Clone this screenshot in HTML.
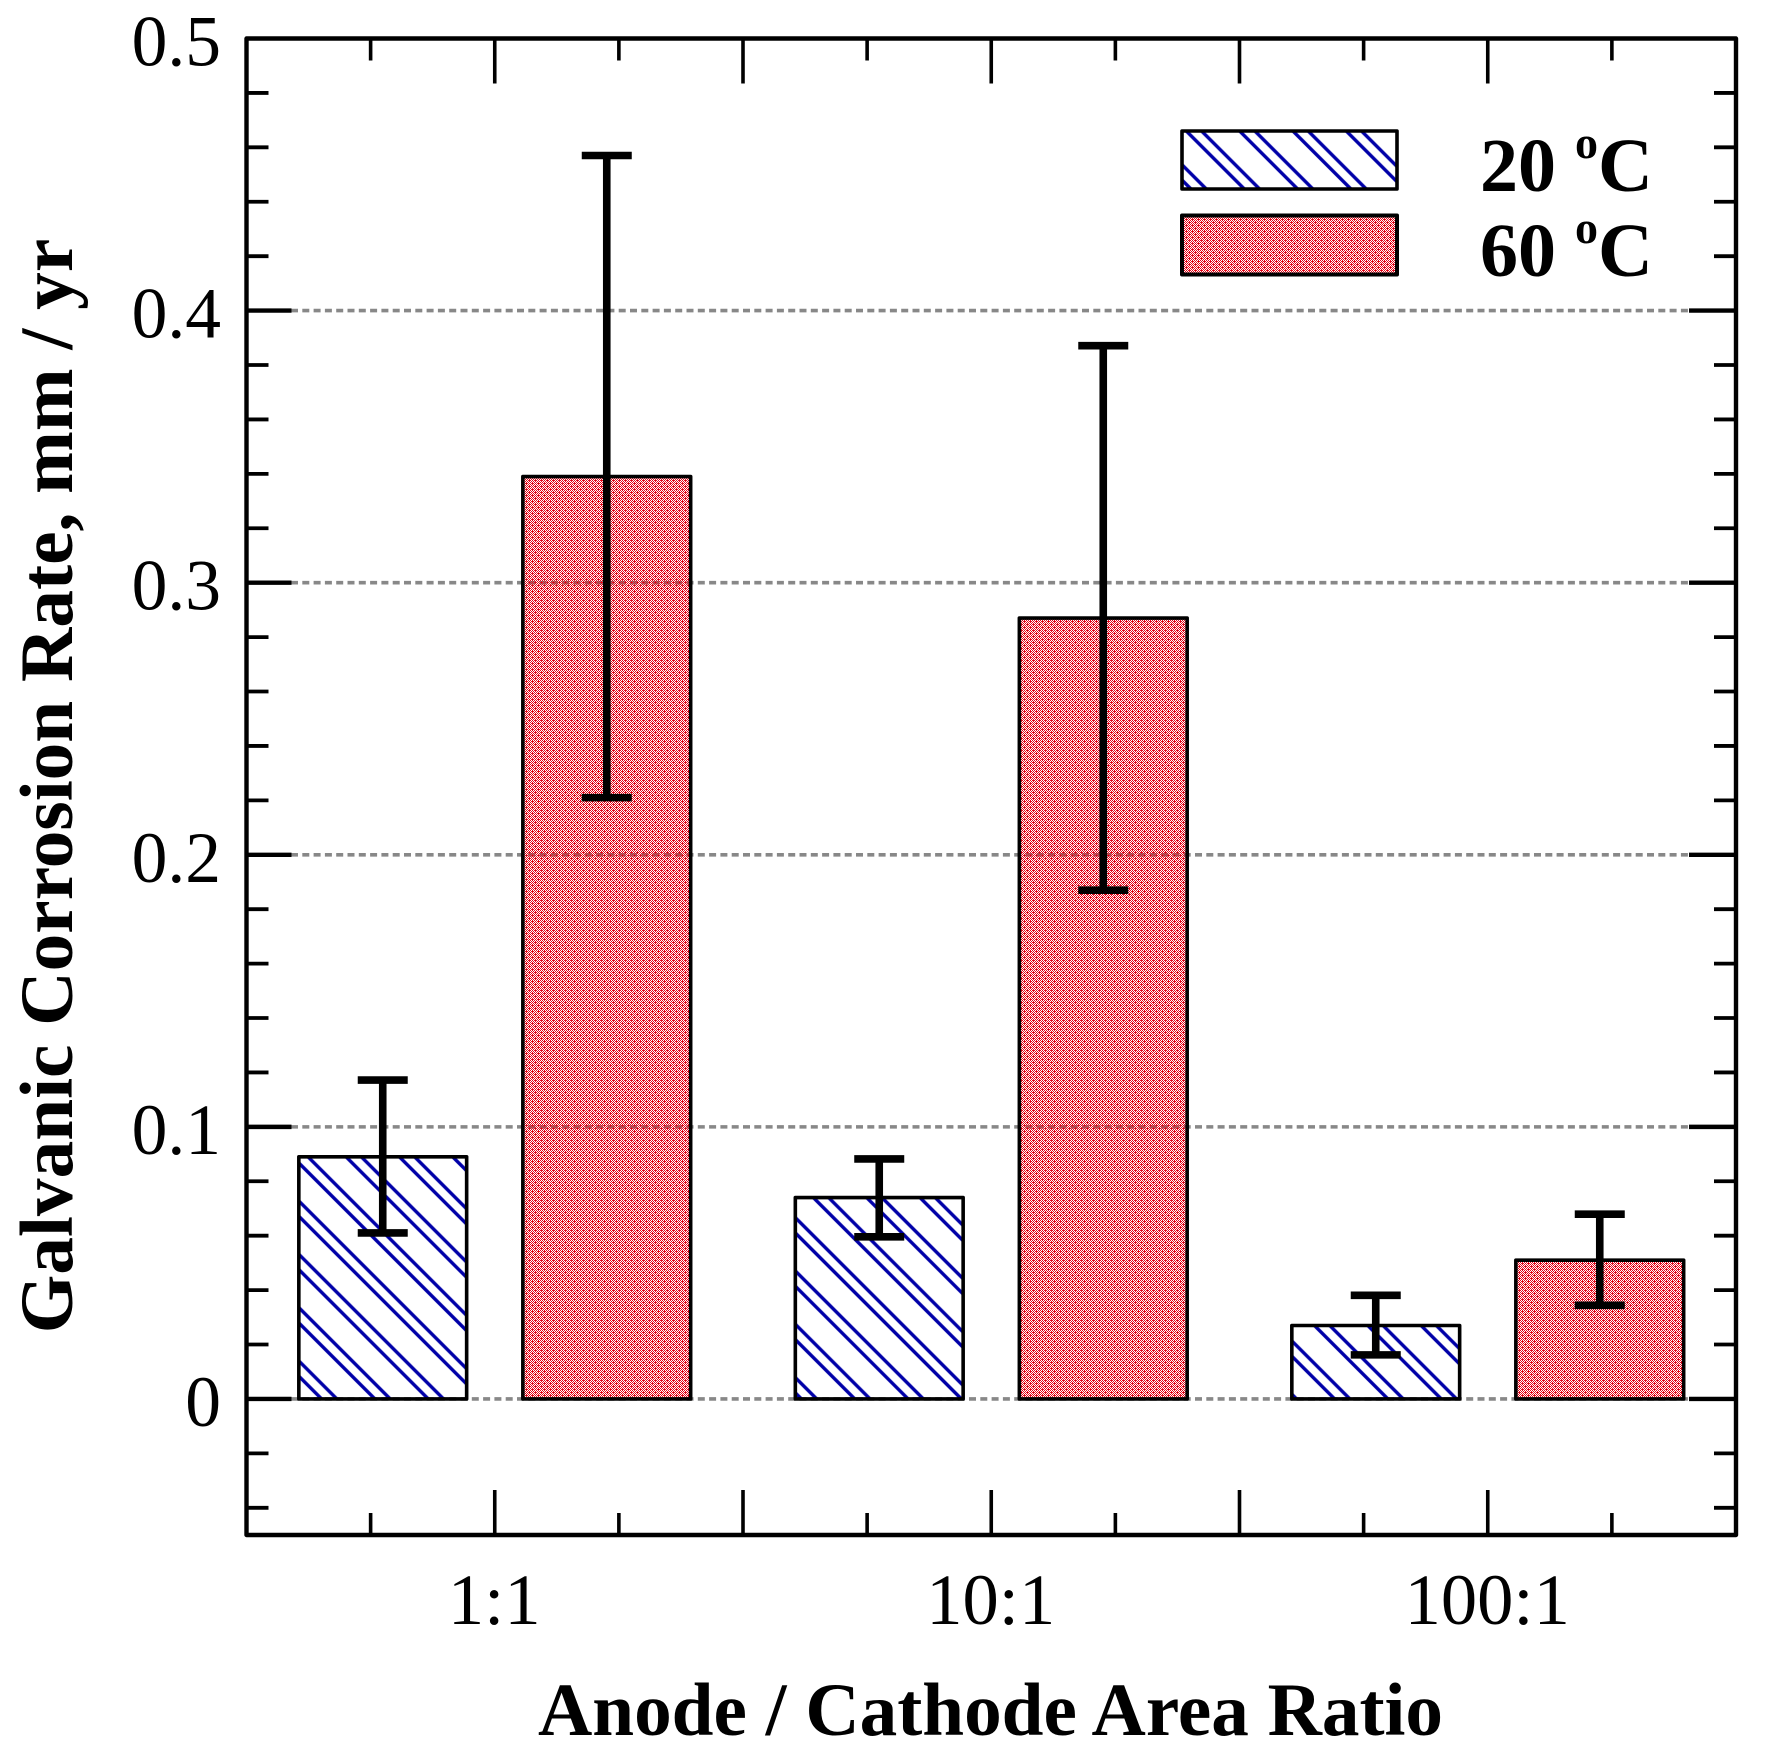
<!DOCTYPE html>
<html>
<head>
<meta charset="utf-8">
<style>
html,body{margin:0;padding:0;background:#fff;}
svg{display:block;}
text{font-family:"Liberation Serif",serif;fill:#000;}
</style>
</head>
<body>
<svg id="chart" xmlns="http://www.w3.org/2000/svg" width="1766" height="1763" viewBox="0 0 1766 1763">
  <defs>
    <pattern id="hatch" patternUnits="userSpaceOnUse" width="37.7" height="37.7" patternTransform="rotate(45)">
      <rect x="0" y="6.1" width="37.7" height="3.4" fill="#0000a8"/>
      <rect x="0" y="33" width="37.7" height="3.4" fill="#0000a8"/>
    </pattern>
    <pattern id="dither" patternUnits="userSpaceOnUse" width="6" height="6">
      <path id="dither-cells" shape-rendering="crispEdges" fill="#e4081a" d=""/>
    </pattern>
  </defs>
  <rect x="0" y="0" width="1766" height="1763" fill="#fff"/>
  <g id="grid"></g>
  <g id="bars"></g>
  <g id="errors"></g>
  <g id="ticks"></g>
  <rect x="246.5" y="38.5" width="1489.5" height="1496.5" fill="none" stroke="#000" stroke-width="4.4" stroke-linejoin="round"/>
  <g id="labels"></g>
  <text x="990.500" y="1735" font-size="75.200" font-weight="bold" text-anchor="middle">Anode / Cathode Area Ratio</text>
  <text transform="translate(72,786) rotate(-90)" x="0" y="0" font-size="75.300" font-weight="bold" text-anchor="middle">Galvanic Corrosion Rate, mm / yr</text>
  <g>
    <rect x="1182" y="131" width="215" height="58" fill="url(#hatch)" stroke="#000" stroke-width="3.6" stroke-linejoin="round"/>
    <text x="1480" y="191" font-size="76" font-weight="bold">20 <tspan font-size="46" dy="-33">o</tspan><tspan dy="33">C</tspan></text>
    <rect x="1182" y="215.500" width="215" height="59" fill="url(#dither)" stroke="#000" stroke-width="4" stroke-linejoin="round"/>
    <text x="1480" y="276" font-size="76" font-weight="bold">60 <tspan font-size="46" dy="-33">o</tspan><tspan dy="33">C</tspan></text>
  </g>
</svg>
<script>
const categories = ['1:1', '10:1', '100:1'];
const categoryPositions = [1, 2, 3];
const rate20 = [0.089, 0.074, 0.027];
const rate60 = [0.339, 0.287, 0.051];
const err20Upper = [0.1172, 0.0882, 0.0381];
const err20Lower = [0.061, 0.0596, 0.0162];
const err60Upper = [0.457, 0.3871, 0.0679];
const err60Lower = [0.221, 0.187, 0.0344];
const yMajorTicks = [0, 0.1, 0.2, 0.3, 0.4];
const yTickValues = [0, 0.1, 0.2, 0.3, 0.4, 0.5];
const yTickLabels = ['0', '0.1', '0.2', '0.3', '0.4', '0.5'];
const yMinorTicks = [-0.04, -0.02, 0.02, 0.04, 0.06, 0.08, 0.12, 0.14, 0.16, 0.18, 0.22, 0.24, 0.26, 0.28, 0.32, 0.34, 0.36, 0.38, 0.42, 0.44, 0.46, 0.48];
const xMajorTicks = [1, 1.5, 2, 2.5, 3];
const xMinorTicks = [0.75, 1.25, 1.75, 2.25, 2.75, 3.25];

const xMin = 0.5, xMax = 3.5, yMin = -0.05, yMax = 0.5;
const plotLeft = 246.5, plotRight = 1736, plotTop = 38.5, plotBottom = 1535;
function xScale(v) { return plotLeft + (v - xMin) / (xMax - xMin) * (plotRight - plotLeft); }
function yScale(v) { return plotBottom - (v - yMin) / (yMax - yMin) * (plotBottom - plotTop); }

// one-pixel red dither for the 60 C fill
let ditherPath = '';
for (let py = 0; py < 6; py++) {
  for (let px = 0; px < 6; px++) {
    if ((px + py) % 2 === 0 || (px === 1 && py === 0) || (px === 4 && py === 3)) {
      ditherPath += 'M' + px + ' ' + py + 'h1v1h-1z';
    }
  }
}
document.getElementById('dither-cells').setAttribute('d', ditherPath);

const NS = 'http://www.w3.org/2000/svg';
function make(tag, parentId, geometry) {
  const node = document.createElementNS(NS, tag);
  Object.keys(geometry).forEach(function (k) { node.setAttribute(k, geometry[k]); });
  document.getElementById(parentId).appendChild(node);
  return node;
}
function line(parentId, x1, y1, x2, y2, width, color) {
  return make('line', parentId, { x1: x1, y1: y1, x2: x2, y2: y2, stroke: color, 'stroke-width': width });
}

// gridlines
yMajorTicks.forEach(function (v) {
  const el = line('grid', 291, yScale(v), 1691, yScale(v), 3.6, '#888');
  el.setAttribute('stroke-dasharray', '7 4.3');
  
  
});

// bars
const barOffset = 0.2256, barWidth = 0.338;
function drawBar(pos, value, shift, fill, name) {
  const left = xScale(pos + shift - barWidth / 2);
  const right = xScale(pos + shift + barWidth / 2);
  const el = make('rect', 'bars', {
    x: left, y: yScale(value), width: right - left, height: yScale(0) - yScale(value),
    fill: fill, stroke: '#000', 'stroke-width': 3.6, 'stroke-linejoin': 'round'
  });
  
  
}
function drawError(pos, shift, upper, lower, name) {
  const cx = xScale(pos + shift);
  const half = 25;
  const stem = line('errors', cx, yScale(upper), cx, yScale(lower), 7.6, '#000');
  
  
  const capTop = line('errors', cx - half, yScale(upper), cx + half, yScale(upper), 7.6, '#000');
  
  
  const capBottom = line('errors', cx - half, yScale(lower), cx + half, yScale(lower), 7.6, '#000');
  
  
}
categoryPositions.forEach(function (pos, i) {
  drawBar(pos, rate20[i], -barOffset, 'url(#hatch)', 'bar-20c-' + categories[i].replace(':', '-to-'));
  drawBar(pos, rate60[i], barOffset, 'url(#dither)', 'bar-60c-' + categories[i].replace(':', '-to-'));
  drawError(pos, -barOffset, err20Upper[i], err20Lower[i], 'error-bar-20c-' + categories[i].replace(':', '-to-'));
  drawError(pos, barOffset, err60Upper[i], err60Lower[i], 'error-bar-60c-' + categories[i].replace(':', '-to-'));
});

// y ticks
yMajorTicks.forEach(function (v) {
  const a = line('ticks', plotLeft, yScale(v), plotLeft + 45, yScale(v), 4.4, '#000');
  
  
  const b = line('ticks', plotRight - 47, yScale(v), plotRight, yScale(v), 4.4, '#000');
  
  
});
yMinorTicks.forEach(function (v) {
  const a = line('ticks', plotLeft, yScale(v), plotLeft + 22, yScale(v), 3.8, '#000');
  
  
  const b = line('ticks', plotRight - 22, yScale(v), plotRight, yScale(v), 3.8, '#000');
  
  
});

// x ticks
xMajorTicks.forEach(function (v) {
  const a = line('ticks', xScale(v), plotBottom, xScale(v), plotBottom - 45, 3.6, '#000');
  
  
  const b = line('ticks', xScale(v), plotTop, xScale(v), plotTop + 45, 3.6, '#000');
  
  
});
xMinorTicks.forEach(function (v) {
  const a = line('ticks', xScale(v), plotBottom, xScale(v), plotBottom - 22, 3.6, '#000');
  
  
  const b = line('ticks', xScale(v), plotTop, xScale(v), plotTop + 22, 3.6, '#000');
  
  
});

// tick labels
yTickValues.forEach(function (v, i) {
  const t = make('text', 'labels', { x: 221, y: yScale(v) + 27, 'font-size': 71.5, 'text-anchor': 'end' });
  t.textContent = yTickLabels[i];
  
  
});
categoryPositions.forEach(function (pos, i) {
  const t = make('text', 'labels', { x: xScale(pos) - 0.5, y: 1624, 'font-size': 72.5, 'text-anchor': 'middle' });
  t.textContent = categories[i];
  
  
});
</script>
</body>
</html>
